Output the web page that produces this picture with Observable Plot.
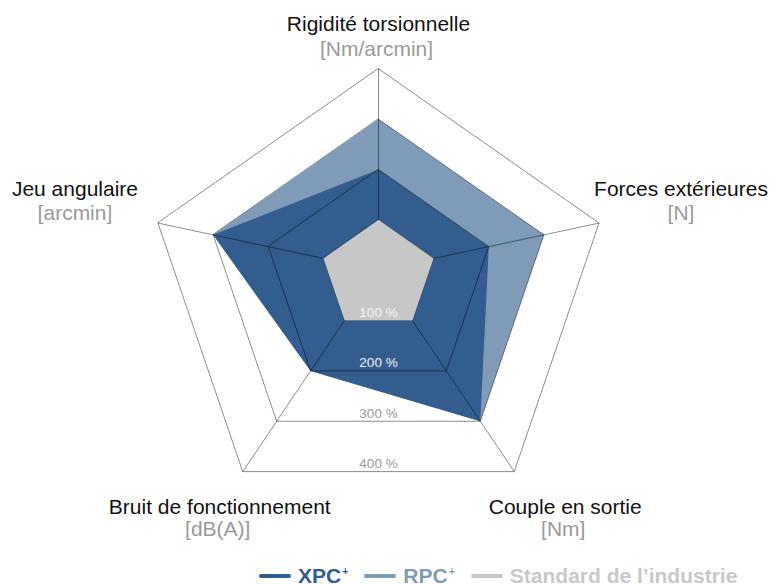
<!DOCTYPE html>
<html>
<head>
<meta charset="utf-8">
<script src="https://cdn.jsdelivr.net/npm/d3@7"></script>
<script src="https://cdn.jsdelivr.net/npm/@observablehq/plot@0.6"></script>
<style>
  html, body { margin: 0; padding: 0; background: #fff; }
  body { width: 782px; height: 586px; position: relative; overflow: hidden;
         font-family: "Liberation Sans", Arial, Helvetica, sans-serif; }
  #legend { position: absolute; left: 259px; top: 562px; height: 28px;
            display: flex; align-items: center; font-weight: bold; font-size: 21px; }
  .item { display: flex; align-items: center; margin-right: 16px; }
  .sw { display: inline-block; width: 32px; height: 4px; border-radius: 2px; margin-right: 7px; }
  .item sup { font-size: 0.5em; position: relative; top: 0.05em; vertical-align: top; margin-left: 1px; }
</style>
</head>
<body>
<div id="chart"></div>
<div id="legend"></div>
<script>
// ---- data ----
const axes = ["Rigidité torsionnelle", "Forces extérieures", "Couple en sortie", "Bruit de fonctionnement", "Jeu angulaire"];
const units = ["[Nm/arcmin]", "[N]", "[Nm]", "[dB(A)]", "[arcmin]"];
const xpc = [200, 200, 300, 200, 300];
const rpc = [300, 300, 300, 200, 300];
const standard = [100, 100, 100, 100, 100];
const rings = [100, 200, 300, 400];
const ringLabels = ["100\u00A0%", "200\u00A0%", "300\u00A0%", "400\u00A0%"];
const seriesNames = ["XPC", "RPC", "Standard de l\u2019industrie"];

// ---- layout (geometry / styles) ----
const colors = {XPC: "#325d8e", RPC: "#7f9bb8", STD: "#c6c7c6"};
const axisDir = [[0, 1], [1.095, 0.234], [0.674, -1], [-0.674, -1], [-1.095, 0.234]];
const labelOff = [ // [dx, dyName, dyUnit, dxUnit] in px from the 400% vertex
  [0, -38, -13, -2],
  [82, -27, -3, 82],
  [51, 42, 64, 49],
  [-23, 42, 64, -25],
  [-83, -27, -3, -83]
];
const W = 768, H = 560, CX = 378, CY = 269.7, PX = 0.5035;
const font = "'Liberation Sans', Arial, Helvetica, sans-serif";

const poly = vals => vals.map((v, i) => ({axis: axes[i], x: v * axisDir[i][0], y: v * axisDir[i][1]}));
const ringPts = rings.flatMap(r => axes.map((a, i) => ({ring: r, x: r * axisDir[i][0], y: r * axisDir[i][1]})));
const spokes = axes.map((a, i) => ({x1: 0, y1: 0, x2: 400 * axisDir[i][0], y2: 400 * axisDir[i][1]}));
const outer = poly([400, 400, 400, 400, 400]);
const ringLab = rings.map((r, i) => ({r, label: ringLabels[i], x: 0, y: -r}));

const labelMarks = axes.flatMap((a, i) => [
  Plot.text([outer[i]], {x: "x", y: "y", text: () => a, dx: labelOff[i][0], dy: labelOff[i][1],
    lineAnchor: "bottom", textAnchor: "middle", fontSize: 21, fill: "#111"}),
  Plot.text([outer[i]], {x: "x", y: "y", text: () => units[i], dx: labelOff[i][3], dy: labelOff[i][2],
    lineAnchor: "bottom", textAnchor: "middle", fontSize: 21, fill: "#9a9a9a"})
]);

const chart = Plot.plot({
  width: W, height: H, margin: 0,
  x: {domain: [-CX / PX, (W - CX) / PX], range: [0, W], axis: null},
  y: {domain: [-(H - CY) / PX, CY / PX], range: [H, 0], axis: null},
  style: {fontFamily: font, background: "#fff", overflow: "hidden"},
  marks: [
    Plot.line(poly(rpc), {x: "x", y: "y", curve: "linear-closed", fill: colors.RPC, stroke: "none"}),
    Plot.line(poly(xpc), {x: "x", y: "y", curve: "linear-closed", fill: colors.XPC, stroke: "none"}),
    Plot.line(ringPts, {x: "x", y: "y", z: "ring", curve: "linear-closed", stroke: "#000", strokeOpacity: 0.45, strokeWidth: 1}),
    Plot.link(spokes, {x1: "x1", y1: "y1", x2: "x2", y2: "y2", stroke: "#000", strokeOpacity: 0.45, strokeWidth: 1}),
    Plot.line(poly(standard), {x: "x", y: "y", curve: "linear-closed", fill: colors.STD, stroke: "none"}),
    Plot.text(ringLab.filter(d => d.r <= 200), {x: "x", y: "y", text: "label", dy: -3.5, lineAnchor: "bottom", fontSize: 13.5, fill: "#f4f4f4"}),
    Plot.text(ringLab.filter(d => d.r > 200), {x: "x", y: "y", text: "label", dy: -3.5, lineAnchor: "bottom", fontSize: 13.5, fill: "#9a9a9a"}),
    ...labelMarks
  ]
});
document.getElementById("chart").appendChild(chart);

// legend
const legend = document.getElementById("legend");
const legendItems = [
  {name: seriesNames[0], sup: "+", color: colors.XPC},
  {name: seriesNames[1], sup: "+", color: colors.RPC},
  {name: seriesNames[2], sup: "", color: "#c8c8c8"}
];
for (const it of legendItems) {
  const el = document.createElement("div");
  el.className = "item";
  el.style.color = it.color;
  el.innerHTML = `<span class="sw" style="background:${it.color}"></span><span>${it.name}${it.sup ? `<sup>${it.sup}</sup>` : ""}</span>`;
  legend.appendChild(el);
}
</script>
</body>
</html>
